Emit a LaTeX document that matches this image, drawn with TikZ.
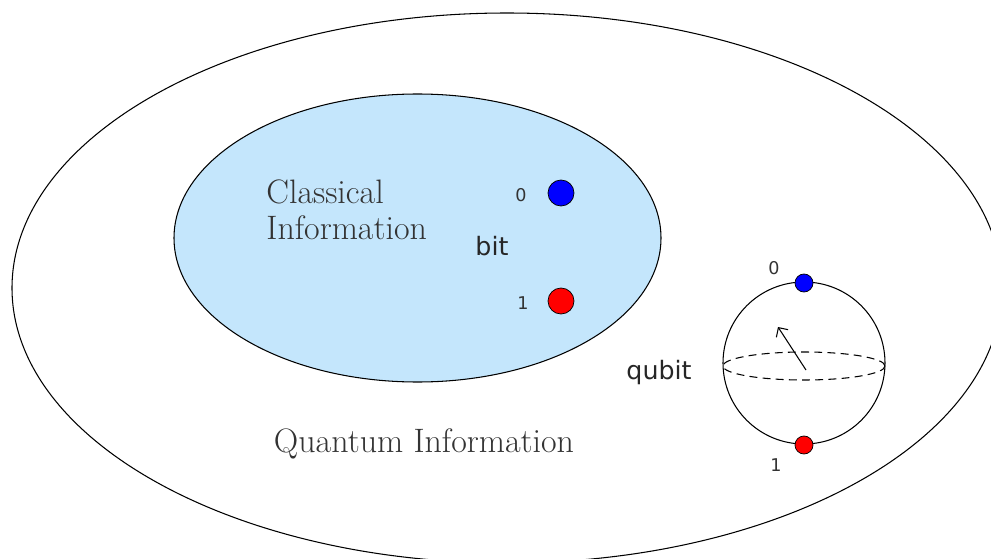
\documentclass[tikz,border=0pt]{standalone}
\usepackage{fontspec}
\usetikzlibrary{arrows.meta}
\newfontfamily\labelfont{DejaVu Sans}
\definecolor{classicalblue}{RGB}{196,230,252}
\begin{document}
\begin{tikzpicture}[semithick,
        dot/.style={circle,draw=black,thin,inner sep=0pt,minimum size=#1},
        state/.style={font=\labelfont\normalsize,text=black!80},
        word/.style={font=\labelfont\fontsize{14.4}{16}\selectfont,text=black!85},
        title/.style={font=\fontsize{19.3}{20.8}\selectfont,text=black!80,align=left}]
        \useasboundingbox (0,0) rectangle (19.82,11.16);
        % outer and inner sets
        \draw (10.14,5.40) ellipse [x radius=9.90,y radius=5.50];
        \draw[fill=classicalblue] (8.35,6.40) ellipse [x radius=4.87,y radius=2.88];
        \node[title,anchor=west] (classical) at (5.20,6.96) {Classical\\Information};
        \node[title] (quantum) at (8.48,2.28) {Quantum Information};
        % bit
        \node[dot=0.52cm,fill=blue] (bit0) at (11.22,7.30) {};
        \node[dot=0.52cm,fill=red] (bit1) at (11.22,5.14) {};
        \node[state] (bitzero) at (10.42,7.26) {0};
        \node[state] (bitone) at (10.46,5.10) {1};
        \node[word] (bit) at (9.84,6.24) {bit};
        % qubit
        \coordinate (centre) at (16.08,3.90);
        \coordinate (equator) at (16.08,3.84);
        \draw (centre) circle (1.62);
        \draw[dash pattern=on 4.5pt off 3pt] (equator) ellipse [x radius=1.62,y radius=0.28];
        \coordinate (tail) at (16.12,3.76);
        \coordinate (tip) at (15.56,4.62);
        \draw[-{Straight Barb[length=1.4mm,width=2.8mm]}] (tail) -- (tip);
        \node[dot=0.36cm,fill=blue] (qubit0) at (16.08,5.50) {};
        \node[dot=0.36cm,fill=red] (qubit1) at (16.08,2.26) {};
        \node[state] (qubitzero) at (15.48,5.80) {0};
        \node[state] (qubitone) at (15.52,1.86) {1};
        \node[word] (qubit) at (13.18,3.70) {qubit};
\end{tikzpicture}
\end{document}
